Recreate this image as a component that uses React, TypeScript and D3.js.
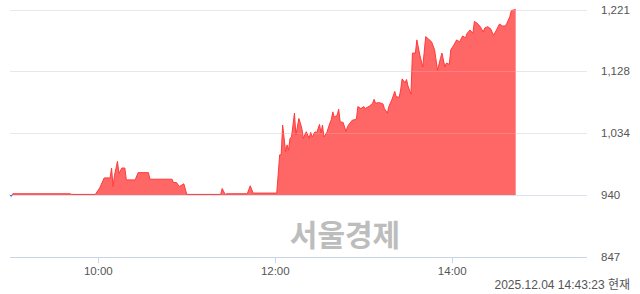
import React from "react";
import * as d3 from "d3";

const times: string[] = [
  "09:00","09:01","09:02","09:41","09:42","09:58","10:01","10:04","10:08","10:09","10:10","10:11","10:13","10:14","10:16","10:18","10:19","10:25","10:27","10:34","10:35","10:50","10:51","10:53","10:55","10:58","11:00","11:23","11:24","11:26","11:27","11:41","11:43","11:45","12:01","12:03",
  "12:04","12:05","12:07","12:08","12:09","12:10","12:11","12:13","12:14","12:16","12:17","12:18","12:19","12:21","12:23","12:24","12:25","12:27","12:28","12:30","12:31","12:32","12:33","12:35","12:37","12:38","12:39","12:40","12:42","12:43","12:44","12:46","12:48","12:49","12:52","12:55","12:56","12:58","13:00","13:01","13:04","13:06","13:07","13:08","13:10","13:12","13:13","13:14","13:16","13:17","13:19","13:21","13:22","13:24","13:25","13:26","13:28","13:29","13:30","13:32","13:33",
  "13:35","13:36","13:38","13:40","13:42","13:44","13:46","13:48","13:50","13:52","13:53","13:55","13:56","13:58","13:59","14:01","14:03","14:05","14:07","14:09","14:10","14:11","14:12","14:14","14:15","14:17","14:19","14:21","14:22","14:24","14:26","14:28","14:30","14:32","14:34","14:36","14:37","14:39","14:40","14:41","14:43"
];
const prices: number[] = [
  940,938,942,942,941,941,951,966,966,981,953,970,991,973,981,981,963,963,974,974,964,964,959,959,953,957,941,941,950,941,942,942,954,943,943,1001,
  1001,1046,1006,1016,1008,1026,1028,1064,1031,1056,1049,1041,1026,1036,1026,1035,1028,1036,1034,1047,1034,1046,1028,1035,1049,1054,1066,1058,1061,1070,1051,1050,1036,1044,1053,1055,1074,1071,1074,1071,1075,1079,1085,1079,1080,1079,1078,1071,1064,1074,1084,1097,1089,1088,1099,1116,1110,1115,1105,1093,1155,
  1155,1175,1152,1134,1180,1176,1172,1160,1129,1147,1155,1134,1140,1138,1160,1167,1175,1172,1181,1178,1185,1187,1190,1185,1203,1200,1195,1187,1193,1195,1192,1182,1190,1199,1196,1196,1200,1210,1219,1220,1221
];
const prevClose = 940;
const yTickValues: number[] = [847, 940.5, 1034, 1127.5, 1221];
const yTickLabels: string[] = ["847", "940", "1,034", "1,128", "1,221"];
const xTickTimes: string[] = ["10:00", "12:00", "14:00"];
const stamp = "2025.12.04 14:43:23 현재";
const watermark = "서울경제";

const parse = d3.timeParse("%H:%M");

export default function App() {
  const W = 640, H = 294;
  const x = d3.scaleTime().domain([parse("09:00")!, parse("15:30")!]).range([9.8, 585]);
  const y = d3.scaleLinear().domain([847, 1221]).range([256.5, 9.5]);
  const data = times.map((t, i) => ({ t: parse(t)!, v: prices[i] }));
  const base = y(prevClose);
  const area = d3.area<{ t: Date; v: number }>().x(d => x(d.t)).y0(base).y1(d => y(d.v))(data) || "";
  const line = d3.line<{ t: Date; v: number }>().x(d => x(d.t)).y(d => y(d.v))(data) || "";
  const gridColor = (i: number) => (i === 0 ? "#c9d4e4" : i === 1 ? "#dbe1ea" : "#e3e3e3");
  return (
    <svg width={W} height={H} style={{ position: "absolute", left: 0, top: 0, background: "#fff" }}
      fontFamily="'Liberation Sans', Arial, sans-serif">
      <defs>
        <clipPath id="up"><rect x={0} y={0} width={W} height={base} /></clipPath>
        <clipPath id="dn"><rect x={0} y={base} width={W} height={H - base} /></clipPath>
      </defs>
      {yTickValues.map((v, i) => (
        <line key={"g" + i} x1={10} x2={587} y1={Math.round(y(v)) + 0.5} y2={Math.round(y(v)) + 0.5}
          stroke={gridColor(i)} strokeWidth={1} />
      ))}
      {xTickTimes.map((t, i) => (
        <line key={"xt" + i} x1={Math.round(x(parse(t)!)) + 0.5} x2={Math.round(x(parse(t)!)) + 0.5}
          y1={257} y2={263} stroke="#c9d4e4" />
      ))}
      <text x={345} y={246} textAnchor="middle" fontSize={30} fontWeight="bold" fill="#bdbdbd"
        fontFamily="'Noto Sans CJK KR', sans-serif">{watermark}</text>
      <g clipPath="url(#up)">
        <path d={area} fill="#ff5a5a" fillOpacity={0.93} />
        <path d={line} fill="none" stroke="#ff3a3a" strokeWidth={1} />
      </g>
      <g clipPath="url(#dn)">
        <path d={area} fill="#5a7dff" />
        <path d={line} fill="none" stroke="#3a64ff" strokeWidth={1} />
      </g>
      {yTickValues.slice(2).map((v, i) => (
        <line key={"go" + i} x1={10} x2={587} y1={Math.round(y(v)) + 0.5} y2={Math.round(y(v)) + 0.5}
          stroke="#ffffff" strokeOpacity={0.18} strokeWidth={1} />
      ))}
      {yTickValues.map((v, i) => (
        <text key={"yl" + i} x={601} y={y(v) + 4} fontSize={11.5} fill="#555">{yTickLabels[i]}</text>
      ))}
      {xTickTimes.map((t, i) => (
        <text key={"xl" + i} x={x(parse(t)!)} y={275} fontSize={11.5} fill="#555" textAnchor="middle">{t}</text>
      ))}
      <text x={630} y={289} textAnchor="end" fontSize={12} fill="#555"
        fontFamily="'Liberation Sans', 'Noto Sans CJK KR', sans-serif">{stamp}</text>
    </svg>
  );
}
